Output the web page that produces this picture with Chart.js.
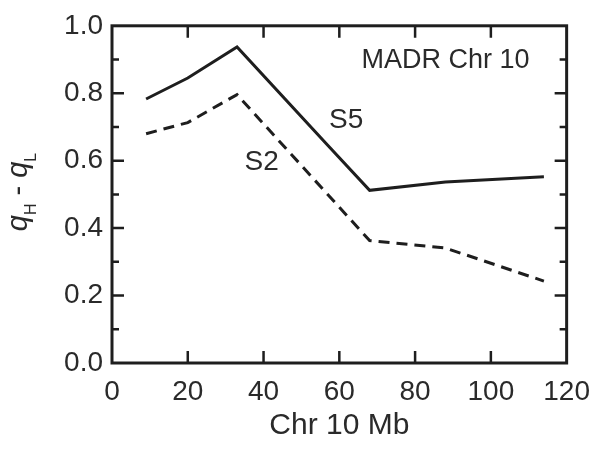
<!DOCTYPE html>
<html>
<head>
<meta charset="utf-8">
<script src="https://cdn.jsdelivr.net/npm/chart.js@4/dist/chart.umd.min.js"></script>
<style>
  html, body { margin: 0; padding: 0; background: #fff; }
  #wrap { width: 602px; height: 449px; }
</style>
</head>
<body>
<div id="wrap"><canvas id="chart"></canvas></div>
<script>
// values (Mb positions along chromosome 10)
const positions = [9, 20, 33, 57, 68, 88, 114];
const s5Values = [0.783, 0.845, 0.937, 0.645, 0.512, 0.537, 0.552];
const s2Values = [0.680, 0.713, 0.796, 0.499, 0.363, 0.341, 0.243];
const xTicks = [0, 20, 40, 60, 80, 100, 120];
const yTicks = [0, 0.1, 0.2, 0.3, 0.4, 0.5, 0.6, 0.7, 0.8, 0.9, 1.0];

const ink = '#1e1e1e';
const textColor = '#2a2a2a';
const fontFamily = 'Liberation Sans, Arial, sans-serif';

// frame, inward ticks, labels inside the plot and the y title with subscripts
const framePlugin = {
    id: 'frame',
    afterDraw(chart) {
        const ctx = chart.ctx;
        const area = chart.chartArea;
        const xs = chart.scales.x;
        const ys = chart.scales.y;
        ctx.save();
        ctx.strokeStyle = ink;
        ctx.lineWidth = 3;
        ctx.strokeRect(area.left, area.top, area.right - area.left, area.bottom - area.top);

        ctx.lineWidth = 2.5;
        ctx.beginPath();
        xTicks.forEach(v => {
            if (v === 0 || v === 120) return;
            const px = xs.getPixelForValue(v);
            ctx.moveTo(px, area.bottom);
            ctx.lineTo(px, area.bottom - 12);
            ctx.moveTo(px, area.top);
            ctx.lineTo(px, area.top + 12);
        });
        yTicks.forEach((v, i) => {
            if (i === 0 || i === yTicks.length - 1) return;
            const py = ys.getPixelForValue(v);
            const len = i % 2 === 0 ? 12 : 7;
            ctx.moveTo(area.left, py);
            ctx.lineTo(area.left + len, py);
            ctx.moveTo(area.right, py);
            ctx.lineTo(area.right - len, py);
        });
        ctx.stroke();

        // in-plot labels
        ctx.fillStyle = textColor;
        ctx.textAlign = 'center';
        ctx.textBaseline = 'middle';
        ctx.font = '27px ' + fontFamily;
        ctx.fillText('MADR Chr 10', xs.getPixelForValue(88), ys.getPixelForValue(0.897));
        ctx.font = '28px ' + fontFamily;
        ctx.fillText('S5', xs.getPixelForValue(61.8), ys.getPixelForValue(0.721));
        ctx.fillText('S2', xs.getPixelForValue(39.5), ys.getPixelForValue(0.594));

        // y axis title: q_H - q_L
        const parts = [
            { t: 'q', f: 'italic 29px ' + fontFamily, dy: 0 },
            { t: 'H', f: '16px ' + fontFamily, dy: 9 },
            { t: ' - ', f: '29px ' + fontFamily, dy: 0 },
            { t: 'q', f: 'italic 29px ' + fontFamily, dy: 0 },
            { t: 'L', f: '16px ' + fontFamily, dy: 9 }
        ];
        let total = 0;
        parts.forEach(p => { ctx.font = p.f; p.w = ctx.measureText(p.t).width; total += p.w; });
        ctx.translate(27, 192);
        ctx.rotate(-Math.PI / 2);
        ctx.textAlign = 'left';
        ctx.textBaseline = 'alphabetic';
        let x = -total / 2;
        parts.forEach(p => {
            ctx.font = p.f;
            ctx.fillText(p.t, x, p.dy);
            x += p.w;
        });
        ctx.restore();
    }
};

new Chart(document.getElementById('chart'), {
    type: 'line',
    data: {
        datasets: [{
            label: 'S5',
            data: positions.map((x, i) => ({ x: x, y: s5Values[i] })),
            borderColor: ink,
            borderWidth: 3,
            pointRadius: 0,
            tension: 0
        }, {
            label: 'S2',
            data: positions.map((x, i) => ({ x: x, y: s2Values[i] })),
            borderColor: ink,
            borderWidth: 3,
            borderDash: [11, 7],
            pointRadius: 0,
            tension: 0
        }]
    },
    options: {
        responsive: true,
        maintainAspectRatio: false,
        animation: false,
        layout: {
            padding: { left: 0, right: 34, top: 22, bottom: 0 }
        },
        plugins: {
            legend: { display: false },
            tooltip: { enabled: false }
        },
        scales: {
            x: {
                type: 'linear',
                min: 0,
                max: 120,
                afterFit: scale => { scale.height = 86; },
                afterBuildTicks: scale => { scale.ticks = xTicks.map(v => ({ value: v })); },
                grid: { display: false, drawTicks: false },
                border: { display: false },
                ticks: {
                    color: textColor,
                    padding: 12,
                    font: { size: 28, family: fontFamily }
                },
                title: {
                    display: true,
                    text: 'Chr 10 Mb',
                    color: textColor,
                    font: { size: 30, family: fontFamily },
                    padding: { top: 0, bottom: 5 }
                }
            },
            y: {
                min: 0,
                max: 1,
                afterFit: scale => { scale.width = 112; },
                afterBuildTicks: scale => {
                    scale.ticks = yTicks.filter((v, i) => i % 2 === 0).map(v => ({ value: v }));
                },
                grid: { display: false, drawTicks: false },
                border: { display: false },
                ticks: {
                    color: textColor,
                    padding: 9,
                    font: { size: 28, family: fontFamily },
                    callback: v => v.toFixed(1)
                }
            }
        }
    },
    plugins: [framePlugin]
});
</script>
</body>
</html>
